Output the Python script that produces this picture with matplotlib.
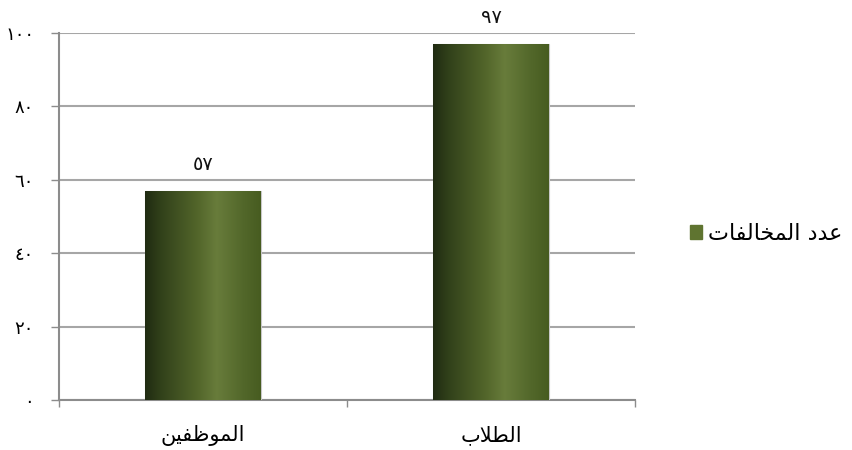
import numpy as np
import matplotlib.pyplot as plt
from matplotlib.colors import LinearSegmentedColormap

# data (arabic text written in visual order with presentation forms,
# since matplotlib does no arabic shaping)
categories = ["\uFEE6\uFEF4\uFED4\uFEC7\uFEEE\uFEE4\uFEDF\uFE8D",  # الموظفين
              "\uFE8F\uFEFC\uFEC4\uFEDF\uFE8D"]                    # الطلاب
values = [57, 97]
value_labels = ["\u0665\u0667", "\u0669\u0667"]
series_name = ("\uFE95\uFE8E\uFED4\uFEDF\uFE8E\uFEA8\uFEE4\uFEDF\uFE8D"
               " \uFEA9\uFEAA\uFECB")                                # عدد المخالفات
yticks = [0, 20, 40, 60, 80, 100]
ytick_labels = ["\u0660", "\u0662\u0660", "\u0664\u0660", "\u0666\u0660",
                "\u0668\u0660", "\u0661\u0660\u0660"]

plt.rcParams['font.family'] = ['DejaVu Sans']

fig = plt.figure(figsize=(8.53, 4.5), dpi=100)
ax = fig.add_axes([0.0692, 0.1111, 0.6753, 0.8156])

x = np.arange(len(categories))
bars = ax.bar(x, values, width=0.4, color='#5a6e30', edgecolor='#c8c8c8',
              linewidth=0.8, zorder=3, label=series_name)

# horizontal gradient like the excel bars
cmap = LinearSegmentedColormap.from_list('olive', [
    (0.0, '#202b12'), (0.15, '#33431b'), (0.45, '#52652a'),
    (0.62, '#687c3b'), (0.85, '#52672a'), (1.0, '#475c20')])
grad = np.linspace(0, 1, 256).reshape(1, -1)
for b in bars:
    x0, y0 = b.get_x(), b.get_y()
    im = ax.imshow(grad, cmap=cmap, aspect='auto', zorder=4,
                   extent=[x0, x0 + b.get_width(), y0, y0 + b.get_height()])
    im.set_clip_path(b)

for xi, v, lab in zip(x, values, value_labels):
    ax.annotate(lab, (xi, v), xytext=(0, 12), textcoords='offset points',
                ha='center', va='bottom', fontsize=14, color='#111111')

ax.set_yticks(yticks)
ax.set_yticklabels(ytick_labels, fontsize=13)
ax.set_xticks(x)
ax.set_xticklabels(categories, fontsize=15)
ax.set_xticks(np.arange(len(categories) + 1) - 0.5, minor=True)
ax.tick_params(axis='x', which='major', length=0, pad=18)
ax.tick_params(axis='x', which='minor', length=5, color='#8c8c8c', width=1)
ax.tick_params(axis='y', length=6, color='#8c8c8c', width=1, pad=12)
ax.set_xlim(-0.5, len(categories) - 0.5)
ax.set_ylim(0, 100)

ax.grid(axis='y', color='#a6a6a6', linewidth=1.5, zorder=0)
ax.set_axisbelow(True)
for s in ['top', 'right']:
    ax.spines[s].set_visible(False)
ax.spines['left'].set_color('#8c8c8c')
ax.spines['bottom'].set_color('#8c8c8c')
ax.spines['left'].set_linewidth(1.5)
ax.spines['bottom'].set_linewidth(1.5)

handle = plt.Rectangle((0, 0), 1, 1, color='#5f7430')
fig.legend([handle], [series_name], loc='center left',
           bbox_to_anchor=(0.785, 0.48), frameon=False, fontsize=16,
           handlelength=0.55, handleheight=0.55, handletextpad=0.3)

fig.savefig('out.png', dpi=100)
